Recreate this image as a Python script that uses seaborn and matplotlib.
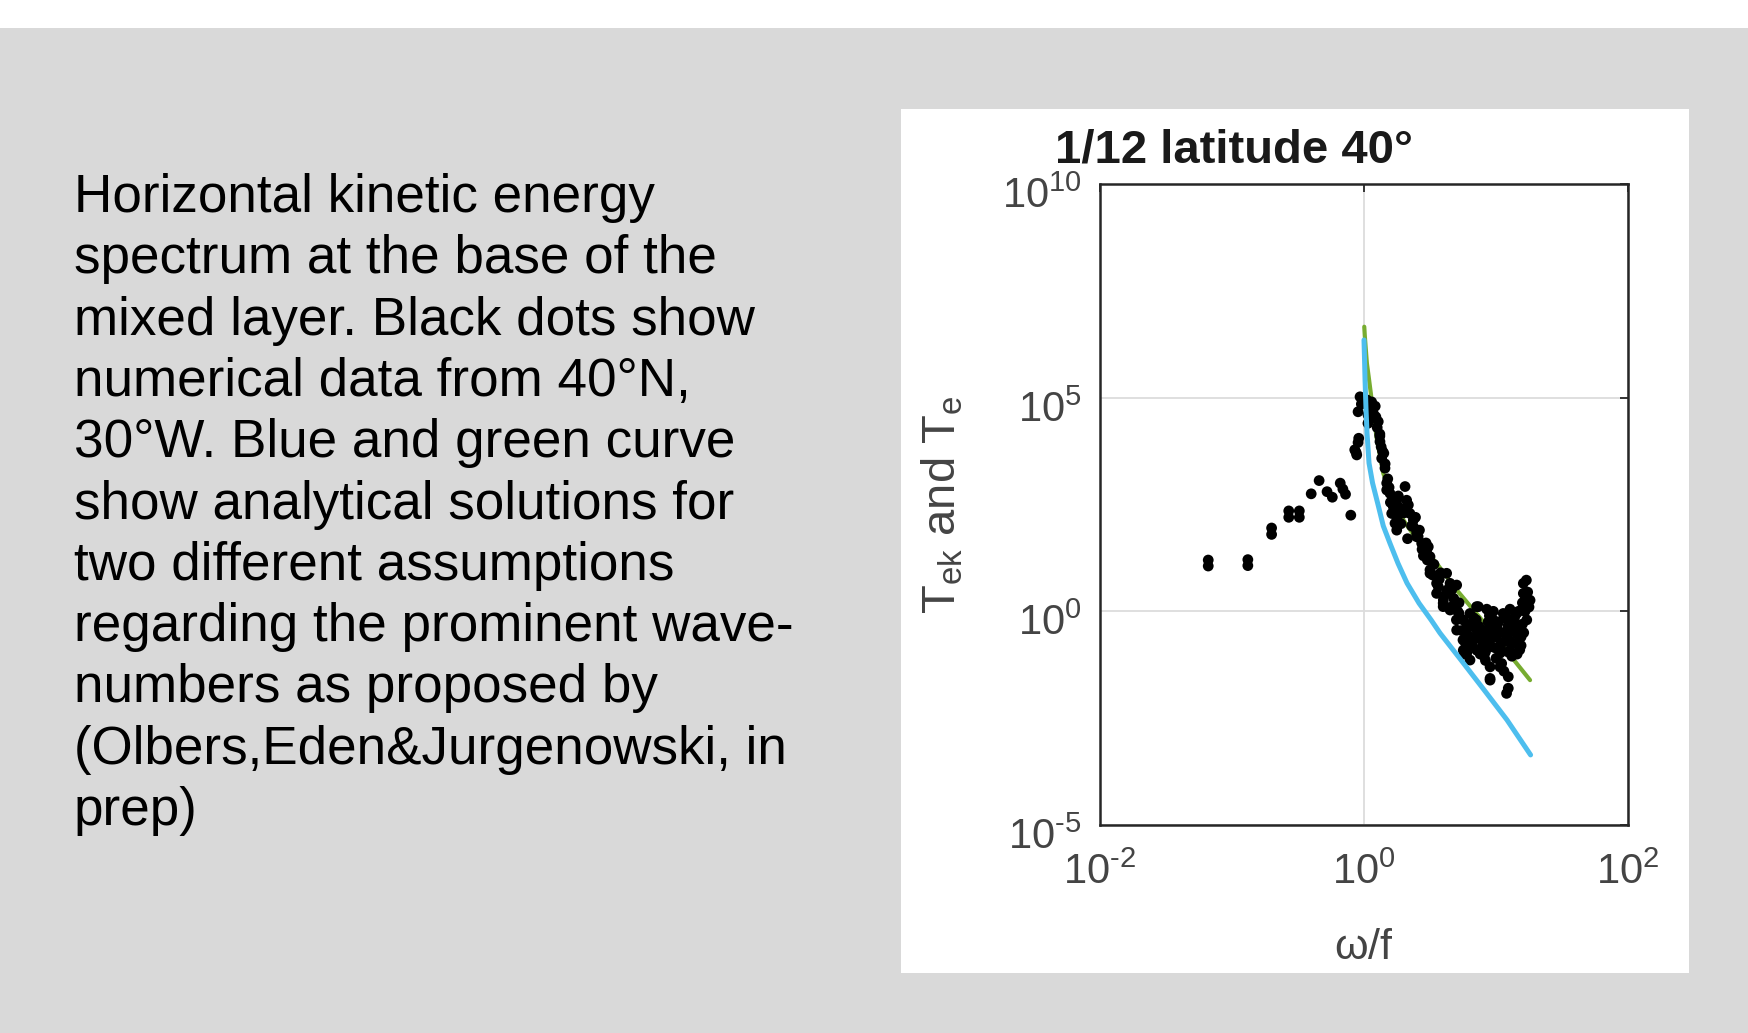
import numpy as np
import matplotlib.pyplot as plt
import matplotlib.ticker as mticker
import matplotlib.transforms as mtransforms
from matplotlib.patches import Rectangle
import seaborn as sns

sns.set_style('white')
plt.rcParams['font.family'] = ['Liberation Sans', 'DejaVu Sans']
plt.rcParams['mathtext.fontset'] = 'custom'
plt.rcParams['mathtext.rm'] = 'Liberation Sans'
plt.rcParams['mathtext.it'] = 'Liberation Sans:italic'
plt.rcParams['mathtext.default'] = 'regular'
plt.rcParams['axes.unicode_minus'] = False


# DATA (log10 of omega/f and of T)
dots_log_x = [
    -1.18, -1.18, -0.88, -0.88, -0.70, -0.70, -0.57, -0.57, -0.49, -0.49,
    -0.40, -0.34, -0.28, -0.24, -0.18, -0.16, -0.14, -0.10,
    -0.07, -0.055, -0.045, -0.04, -0.045, -0.03, -0.02, -0.06,
    0.02, 0.058, 0.071, 0.071, 0.10, 0.108, 0.121, 0.12, 0.134, 0.14,
    0.159, 0.172, 0.172, 0.197, 0.21, 0.222, 0.235, 0.248, 0.248, 0.26,
    0.311, 0.323, 0.336, 0.348, 0.374, 0.374, 0.399, 0.399, 0.437, 0.487,
    0.475, 0.50, 0.50, 0.50, 0.55, 0.55, 0.563, 0.60, 0.60, 0.601,
    0.626, 0.652, 0.652, 0.664, 0.677, 0.702, 0.702, 0.70, 0.75, 0.752,
    0.778, 0.778, 0.803, 0.803, 0.853, 0.854, 0.854, 0.866, 0.904, 0.93,
    0.955, 0.955, 0.955, 0.955, 1.005, 1.03, 1.03, 1.043, 1.055, 1.08,
    1.093, 1.093, 1.106, 1.106, 1.106, 1.157, 1.157, 1.157, 1.182, 1.207,
    1.207, 1.22, 1.23, 1.233, 1.258,
    0.75, 0.80, 0.85, 0.90, 0.95, 1.00, 1.05, 1.10, 1.15, 1.20,
    0.72, 0.78, 0.88, 1.00, 1.12, 1.18, 1.22, 1.24, 1.20, 0.98,
    1.08, 0.93, 0.82, 0.68, 0.72, 0.62, 0.58, 0.53, 0.45, 0.47,
    0.42, 0.44, 0.30, 0.28, 0.25, 0.20, 0.18, 0.15, 0.12, 0.085,
    0.04, 0.03, 0.97, 1.02, 1.07, 1.13, 0.88, 0.82, 1.17, 1.19,
    0.92, 1.06,
    0.74, 0.77, 0.84, 0.87, 0.91, 0.94, 0.99, 1.04, 1.09, 1.14,
    0.76, 0.83, 0.89, 0.96, 1.01, 1.06, 1.11, 1.16, 1.21, 1.25,
    0.71, 0.79, 0.86, 0.92, 0.98, 1.03, 1.09, 1.15, 1.19, 1.24,
    0.66, 0.63, 0.57, 0.52, 0.48, 0.41, 0.36, 0.33, 0.27, 0.23,
    0.19, 0.16, 0.13, 0.09, 0.06, 0.03, 0.01, 0.26, 0.31, 0.39,
]
dots_log_y = [
    1.20, 1.06, 1.21, 1.07, 1.95, 1.80, 2.35, 2.20, 2.35, 2.20,
    2.75, 3.06, 2.80, 2.67, 3.00, 2.86, 2.74, 2.25,
    3.78, 3.66, 3.95, 4.05, 4.67, 5.02, 4.85, 3.72,
    4.95, 4.90, 4.63, 4.55, 4.30, 4.44, 3.97, 4.15, 3.58, 3.75,
    3.35, 3.00, 2.84, 2.76, 2.29, 2.45, 2.06, 2.60, 1.90, 2.45,
    2.92, 2.60, 2.49, 2.29, 2.14, 1.98, 1.83, 1.745, 1.59, 1.51,
    1.43, 1.28, 0.97, 0.89, 0.655, 0.42, 0.575, 0.19, 0.11, 0.265,
    0.89, 0.655, 0.03, 0.50, 0.58, 0.615, -0.44, -0.20, -0.67, -0.91,
    -0.98, -0.515, -0.05, -1.14, 0.11, -0.44, -0.91, 0.11, -0.52, -0.44,
    -0.83, -1.30, -1.57, -1.61, -0.36, -0.83, -0.98, -1.22, -0.05, -1.92,
    -1.53, -1.80, 0.05, -0.20, -0.91, -0.05, -0.52, -0.75, -0.59, 0.42,
    0.655, 0.265, 0.73, -0.20, 0.26,
    -0.2, -0.6, -0.2, -0.7, -0.1, -0.6, -0.5, -0.5, -0.35, -0.3,
    -0.05, -0.3, -1.0, -1.1, -1.05, -0.9, 0.0, 0.45, 0.2, 0.0,
    -0.15, 0.05, -0.8, 0.3, 0.2, 0.4, 0.9, 1.1, 1.3, 1.6,
    1.9, 1.45, 2.3, 2.05, 2.2, 2.55, 3.1, 3.7, 4.1, 4.8,
    4.8, 4.4, -0.45, -0.25, -0.7, -0.2, -0.55, -0.35, 0.0, -0.6,
    -1.15, -1.4,
    -0.45, -0.75, -0.65, -0.35, -1.05, -0.25, -0.85, -0.75, -0.95, -0.15,
    -1.0, -0.15, -0.85, -0.65, -0.45, -0.15, -0.7, -1.0, -0.5, 0.1,
    0.0, -0.85, -0.4, -0.95, -0.2, -1.3, -0.35, -0.45, -0.8, 0.25,
    0.1, 0.5, 0.75, 0.85, 1.2, 1.75, 2.0, 1.7, 2.3, 2.65,
    2.9, 3.45, 3.85, 4.55, 4.75, 4.6, 4.95, 2.7, 2.4, 2.2,
]

blue_log_x = [0.0, 0.004, 0.008, 0.015, 0.023, 0.038, 0.065, 0.106, 0.146, 0.197,
              0.258, 0.326, 0.417, 0.508, 0.576, 0.735, 0.91, 1.083, 1.262]
blue_log_y = [6.35, 5.9, 5.41, 4.75, 4.17, 3.47, 3.0, 2.5, 2.0, 1.59,
              1.12, 0.66, 0.19, -0.20, -0.51, -1.14, -1.84, -2.54, -3.36]

green_log_x = [0.002, 0.006, 0.012, 0.022, 0.035, 0.058, 0.096, 0.146, 0.235, 0.323,
               0.424, 0.551, 0.702, 0.879, 1.05, 1.258]
green_log_y = [6.66, 6.45, 6.2, 5.8, 5.5, 4.95, 4.05, 3.23, 2.45, 2.02,
               1.59, 1.12, 0.50, -0.15, -0.81, -1.61]

x_ticks = [1e-2, 1e0, 1e2]
x_tick_labels = [r'$10^{\text{-}2}$', r'$10^{0}$', r'$10^{2}$']
y_ticks = [1e-5, 1e0, 1e5, 1e10]
y_tick_labels = [r'$10^{\text{-}5}$', r'$10^{0}$', r'$10^{5}$', r'$10^{10}$']

caption = [
    'Horizontal kinetic energy',
    'spectrum at the base of the',
    'mixed layer. Black dots show',
    'numerical data from 40\u00b0N,',
    '30\u00b0W. Blue and green curve',
    'show analytical solutions for',
    'two different assumptions',
    'regarding the prominent wave-',
    'numbers as proposed by',
    '(Olbers,Eden&Jurgenowski, in',
    'prep)',
]

W, H = 1748, 1033
fig = plt.figure(figsize=(W / 100, H / 100), dpi=100, facecolor='white')

# slide background + white chart panel
fig.add_artist(Rectangle((0, 0), 1, (H - 28) / H, transform=fig.transFigure,
                         facecolor='#d9d9d9', edgecolor='none', zorder=-3))
fig.add_artist(Rectangle((901 / W, 1 - 973 / H), 788 / W, 864 / H, transform=fig.transFigure,
                         facecolor='white', edgecolor='none', zorder=-2))

# caption text
for i, line in enumerate(caption):
    fig.text(74 / W, 1 - (212 + i * 61.3) / H, line, fontsize=38.2, color='black',
             ha='left', va='baseline')

ax = fig.add_axes([1100 / W, 1 - 825 / H, 528 / W, 641 / H])
ax.set_xscale('log')
ax.set_yscale('log')
ax.set_facecolor('white')

sns.lineplot(x=10 ** np.array(green_log_x), y=10 ** np.array(green_log_y), sort=False,
             estimator=None, color='#77AC30', lw=3.0, ax=ax, zorder=2)
sns.scatterplot(x=10 ** np.array(dots_log_x), y=10 ** np.array(dots_log_y), color='black',
                s=60, edgecolor='none', ax=ax, zorder=3)
sns.lineplot(x=10 ** np.array(blue_log_x), y=10 ** np.array(blue_log_y), sort=False,
             estimator=None, color='#4DBEEE', lw=3.6, ax=ax, zorder=4)

ax.set_xlim(1e-2, 1e2)
ax.set_ylim(1e-5, 1e10)
ax.xaxis.set_major_locator(mticker.FixedLocator(x_ticks))
ax.yaxis.set_major_locator(mticker.FixedLocator(y_ticks))
ax.xaxis.set_minor_locator(mticker.NullLocator())
ax.yaxis.set_minor_locator(mticker.NullLocator())
ax.xaxis.set_major_formatter(mticker.FixedFormatter(x_tick_labels))
ax.yaxis.set_major_formatter(mticker.FixedFormatter(y_tick_labels))

ax.grid(True, which='major', color='#dcdcdc', lw=1.3)
ax.set_axisbelow(True)
for s in ax.spines.values():
    s.set_color('#262626')
    s.set_linewidth(1.8)
    s.set_visible(True)

ax.tick_params(which='major', direction='in', length=6, width=1.3, color='#262626',
               top=True, right=True, labelsize=30, labelcolor='#444444')
ax.tick_params(axis='x', pad=20)
ax.tick_params(axis='y', pad=13)

ax.set_xlabel(r'$\omega$/f', fontsize=31, color='#444444')
ax.xaxis.set_label_coords(0.5, -0.16)
ax.set_ylabel(r'T$_{ek}$ and T$_e$', fontsize=34, color='#444444')
ax.yaxis.set_label_coords(-0.255, 0.5)

ax.text(-0.085, 1.033, '1/12 latitude 40\u00b0', transform=ax.transAxes, fontsize=34,
        fontweight='bold', color='#1a1a1a', ha='left', va='baseline')

fig.canvas.draw()
# matlab puts the y tick labels a bit below the tick
shift = mtransforms.ScaledTranslation(0, -6 / 72, fig.dpi_scale_trans)
for lab in ax.get_yticklabels():
    lab.set_transform(lab.get_transform() + shift)

fig.savefig('out.png', dpi=100, facecolor=fig.get_facecolor())
